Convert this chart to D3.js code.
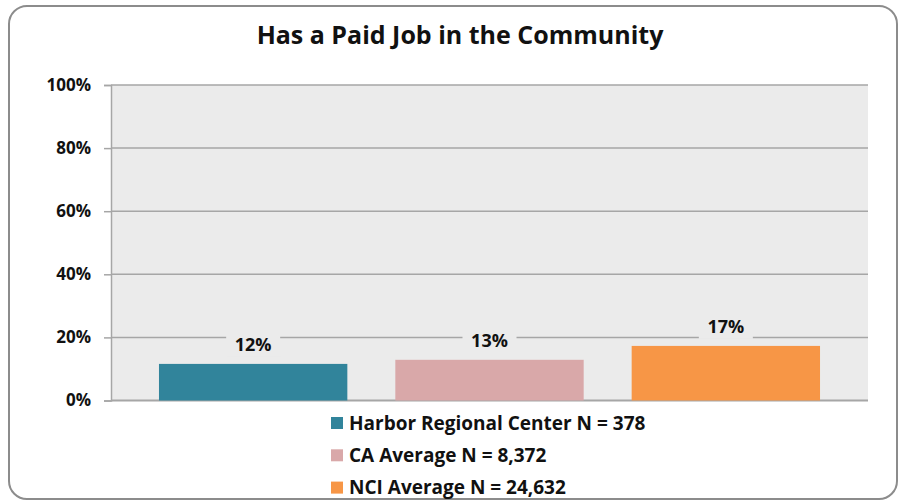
<!DOCTYPE html>
<html>
<head>
<meta charset="utf-8">
<script src="https://cdn.jsdelivr.net/npm/d3@7"></script>
<style>
  body { margin: 0; background: #fff; }
  text { font-family: "Open Sans", sans-serif; font-weight: bold; fill: #111; }
</style>
</head>
<body>
<div id="chart"></div>
<script>
const svgWidth = 901;
const svgHeight = 501;

// data
const groups = ["Harbor Regional Center N = 378", "CA Average N = 8,372", "NCI Average N = 24,632"];
const values = [11.6, 12.9, 17.3];
const valueLabels = ["12%", "13%", "17%"];
const colors = ["#31849b", "#d9a8a9", "#f79646"];
const yTicks = [0, 20, 40, 60, 80, 100];

const plot = { left: 111, right: 868, top: 85, bottom: 400.5 };

const svg = d3.select("#chart")
  .append("svg")
  .attr("width", svgWidth)
  .attr("height", svgHeight);

// outer frame
svg.append("rect")
  .attr("x", 9)
  .attr("y", 6)
  .attr("width", 888)
  .attr("height", 493)
  .attr("rx", 18)
  .attr("fill", "#fff")
  .attr("stroke", "#8c8c8c")
  .attr("stroke-width", 2);

// title
svg.append("text")
  .attr("x", 460)
  .attr("y", 44)
  .attr("text-anchor", "middle")
  .style("font-size", "25px")
  .text("Has a Paid Job in the Community");

const x = d3.scaleBand()
  .domain(groups)
  .range([plot.left, plot.right])
  .paddingInner(0.203)
  .paddingOuter(0.203);

const y = d3.scaleLinear()
  .domain([0, 100])
  .range([plot.bottom, plot.top]);

// plot background
svg.append("rect")
  .attr("x", plot.left)
  .attr("y", plot.top)
  .attr("width", plot.right - plot.left)
  .attr("height", plot.bottom - plot.top)
  .attr("fill", "#ebebeb");

// ticks and labels
const yAxis = svg.append("g")
  .attr("transform", `translate(${plot.left},0)`)
  .call(d3.axisLeft(y)
    .tickValues(yTicks)
    .tickSize(7)
    .tickPadding(13)
    .tickFormat(d => d + "%"));

yAxis.select(".domain").attr("stroke", "#a6a6a6").attr("stroke-width", 1.5);
yAxis.selectAll(".tick line").attr("stroke", "#a6a6a6").attr("stroke-width", 1.5);
yAxis.selectAll(".tick text")
  .style("font-size", "17px")
  .attr("fill", "#111");

// gridlines
svg.append("g")
  .selectAll("line")
  .data(yTicks)
  .enter()
  .append("line")
  .attr("x1", plot.left)
  .attr("x2", plot.right)
  .attr("y1", d => y(d))
  .attr("y2", d => y(d))
  .attr("stroke", "#a6a6a6")
  .attr("stroke-width", d => d === 0 ? 2 : 1.5);

// bars
svg.append("g")
  .selectAll("rect")
  .data(values)
  .enter()
  .append("rect")
  .attr("x", (d, i) => x(groups[i]))
  .attr("y", d => y(d))
  .attr("width", x.bandwidth())
  .attr("height", d => y(0) - y(d))
  .attr("fill", (d, i) => colors[i]);

// value labels with a background that breaks the gridline
const labels = svg.append("g")
  .selectAll("g")
  .data(values)
  .enter()
  .append("g")
  .attr("transform", (d, i) => `translate(${x(groups[i]) + x.bandwidth() / 2},${y(d) - 13})`);

labels.append("rect")
  .attr("x", -27)
  .attr("y", -18)
  .attr("width", 54)
  .attr("height", 24)
  .attr("fill", "#ebebeb");

labels.append("text")
  .attr("text-anchor", "middle")
  .style("font-size", "18px")
  .text((d, i) => valueLabels[i]);

// legend
const legend = svg.append("g")
  .selectAll("g")
  .data(groups)
  .enter()
  .append("g")
  .attr("transform", (d, i) => `translate(331,${423 + i * 32.3})`);

legend.append("rect")
  .attr("x", 0)
  .attr("y", -6)
  .attr("width", 12)
  .attr("height", 12)
  .attr("fill", (d, i) => colors[i]);

legend.append("text")
  .attr("x", 18)
  .attr("y", 6.5)
  .style("font-size", "19px")
  .text(d => d);
</script>
</body>
</html>
